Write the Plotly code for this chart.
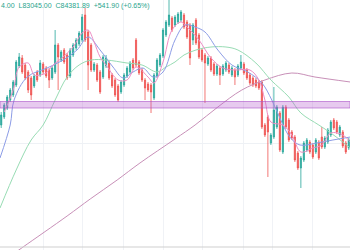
import plotly.graph_objects as go

# candle index 0..116 (one bar per period); prices in chart units
idx = list(range(117))
opens = [125,133,142,150,155,165,184,192,185,178,172,164,178,175,186,182,180,172,178,205,
         190,200,195,174,195,202,206,210,235,218,205,180,185,178,173,184,187,175,170,164,
         158,165,174,178,190,210,188,180,170,166,165,152,174,185,194,215,225,232,225,228,
         230,235,228,225,210,230,215,200,195,186,192,186,176,182,176,180,185,175,180,175,
         182,186,180,175,172,170,168,168,125,133,107,113,123,137,98,143,130,118,113,97,
         82,90,100,108,105,98,108,113,103,108,115,130,128,115,118,107,102]
highs = [138,147,155,162,170,190,197,195,187,180,174,176,180,190,188,184,182,184,220,207,
         200,202,197,202,207,212,219,236,242,220,207,188,187,180,195,195,189,177,172,166,
         170,177,184,189,192,212,190,182,172,168,167,177,192,197,222,230,250,234,235,238,
         240,237,230,227,227,232,217,202,197,194,194,188,186,184,186,189,187,184,182,186,
         195,188,182,177,174,172,170,170,127,135,117,163,145,139,145,145,132,120,115,99,
         94,109,112,110,107,112,110,123,114,122,130,132,130,125,120,109,112]
lows = [122,131,140,148,153,163,182,176,170,157,150,162,168,173,176,172,162,170,176,160,
        188,186,170,172,193,200,204,208,208,160,178,178,168,156,171,182,170,162,153,148,
        156,163,172,176,180,183,175,168,150,158,137,150,172,183,192,213,223,218,223,226,
        228,221,211,185,205,205,191,188,147,184,178,174,174,165,174,178,176,173,165,173,
        180,175,170,165,163,162,160,121,113,73,105,111,121,98,96,121,108,110,88,80,
        62,88,98,96,91,96,90,101,101,106,113,120,116,113,102,96,100]
closes = [135,145,153,160,168,188,193,178,172,160,155,174,170,187,178,174,170,182,205,193,
          198,188,172,200,205,210,217,233,210,185,180,186,170,158,193,192,172,164,155,150,
          168,175,182,187,182,185,177,170,162,160,158,175,190,195,220,228,235,220,233,236,
          238,223,213,192,225,207,193,190,187,192,180,176,184,175,184,187,178,182,173,184,
          188,177,172,167,165,164,162,123,115,118,115,140,143,100,143,123,110,112,90,82,
          92,107,110,98,93,110,92,103,112,120,128,122,118,123,104,98,110]

# moving averages (index, value)
ma_fast_x = [1,4,6,9,11,13,15,17,21,24,27,29,31,33,35,39,42,45,49,51,54,57,60,62,66,70,74,78,83,86,88,90,94,97,100,104,107,110,114,116.5]
ma_fast_y = [138,160,183,187,175,175,177,184,194,203,217,220,208,193,185,170,170,183,173,167,188,220,228,223,210,192,182,180,180,170,150,128,125,115,98,102,105,117,115,108]
ma_mid_x = [-0.4,3,4.3,8.7,15.3,20.7,25.3,29,33,37.3,40.7,44,47.3,50.7,54,58,61.3,64.7,68,72.3,77,82.3,87,90.3,93,96.3,99.7,105.3,110.7,116.5]
ma_mid_y = [92,125,150,173,182,190,200,213,200,183,172,178,182,173,178,210,225,223,218,200,185,178,167,150,132,113,105,107,110,113]
ma_slow_x = [-0.4,5,10,14,18,22,26,30,35,42,47,52,55,58,61,65,70,75,79,85,90,96,100,106,110,114,116.5]
ma_slow_y = [42,80,110,125,150,173,185,190,190,187,185,178,183,188,195,200,203,203,200,187,170,153,137,125,117,108,102]
ma_long_x = [4,7.3,22,29.7,38.7,46.3,58,64.7,72.3,80.3,88,97,104.7,116.5]
ma_long_y = [-4,3,34,51,70,87,111,125,143,160,170,177,173,168]

header = "4.00  L83045.00  C84381.89  +541.90 (+0.65%)"
grid_x = [14, 27, 40.7, 54, 67.3, 80.7, 90.7, 104]
grid_y = [107]
zone_low, zone_high = 142, 148.5

fig = go.Figure()
fig.add_trace(go.Scatter(x=ma_long_x, y=ma_long_y, mode="lines", line=dict(color="#c890b8", width=1, shape="spline"), hoverinfo="skip"))
fig.add_trace(go.Scatter(x=ma_slow_x, y=ma_slow_y, mode="lines", line=dict(color="#98dcb4", width=1, shape="spline"), hoverinfo="skip"))
fig.add_trace(go.Candlestick(
    x=idx, open=opens, high=highs, low=lows, close=closes,
    increasing=dict(line=dict(color="#26a69a", width=0.8), fillcolor="#26a69a"),
    decreasing=dict(line=dict(color="#ef5350", width=0.8), fillcolor="#ef5350"),
    whiskerwidth=0, hoverinfo="skip"))
fig.add_trace(go.Scatter(x=ma_mid_x, y=ma_mid_y, mode="lines", line=dict(color="#8c9ce6", width=1, shape="spline"), hoverinfo="skip"))
fig.add_trace(go.Scatter(x=ma_fast_x, y=ma_fast_y, mode="lines", line=dict(color="#ee8cc4", width=1, shape="spline"), hoverinfo="skip"))

fig.add_shape(type="rect", xref="paper", x0=0, x1=1, yref="y", y0=zone_low, y1=zone_high,
              fillcolor="rgba(186,104,210,0.35)", line=dict(color="rgba(170,80,200,0.6)", width=1), layer="above")
fig.add_shape(type="line", xref="paper", x0=0, x1=1, yref="y", y0=3, y1=3,
              line=dict(color="#cfcfcf", width=1))

fig.add_annotation(text=header, xref="paper", yref="paper", x=0, y=1, xanchor="left", yanchor="top",
                   showarrow=False, yshift=0, xshift=-1,
                   font=dict(family="Liberation Sans, Arial", size=7, color="#2aa48c"))

fig.update_layout(
    width=350, height=250, margin=dict(l=0, r=0, t=0, b=0),
    paper_bgcolor="white", plot_bgcolor="white", showlegend=False, boxgap=0.45,
    xaxis=dict(range=[-0.4, 116.4], rangeslider=dict(visible=False), showticklabels=False,
               tickvals=grid_x, showgrid=True, gridcolor="#f0f2f6", gridwidth=1, zeroline=False, showline=False, ticks=""),
    yaxis=dict(range=[0, 250], showticklabels=False, tickvals=grid_y, showgrid=True, gridcolor="#eef1f5",
               zeroline=False, showline=False, ticks=""),
)
fig.write_html("out.html", config={"displayModeBar": False})
